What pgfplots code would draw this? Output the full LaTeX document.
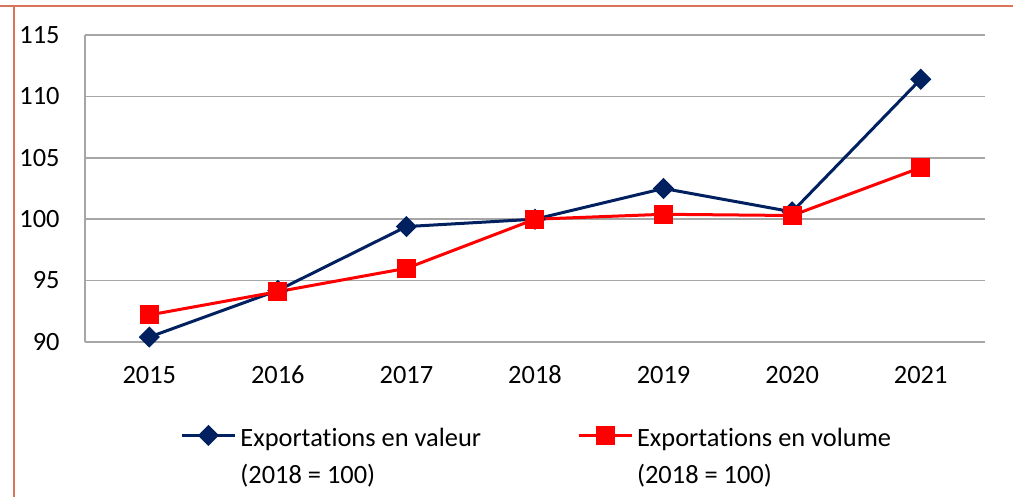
\documentclass[border=0pt]{standalone}
\usepackage{fontspec}
\setmainfont{Carlito}[Ligatures={NoCommon,NoDiscretionary,NoContextual}]
\usepackage{pgfplots}
\pgfplotsset{compat=1.18}
\definecolor{navy}{HTML}{002060}
\definecolor{bordc}{HTML}{D9735A}
\definecolor{gridc}{HTML}{A6A6A6}
\renewcommand\arraystretch{1.17}
\begin{document}
\begin{tikzpicture}[font=\fontsize{13.2}{15.8}\selectfont]
\useasboundingbox (0,0) rectangle (506.5pt,248.5pt);
\draw[bordc, line width=1pt] (0,245.5pt) -- (506.5pt,245.5pt);
\draw[bordc, line width=1pt] (7pt,245.5pt) -- (7pt,0);
\begin{axis}[at={(42.5pt,77.5pt)}, anchor=south west, scale only axis,
  width=450pt, height=153.5pt,
  xmin=-0.5, xmax=6.5, ymin=90, ymax=115,
  ytick={90,95,100,105,110,115},
  xtick={0,1,2,3,4,5,6},
  xticklabels={2015,2016,2017,2018,2019,2020,2021},
  /pgf/number format/assume math mode=true,
  major tick length=0pt,
  axis x line*=bottom, axis y line*=left,
  axis line style={gridc, line width=0.75pt, -},
  ymajorgrids, grid style={gridc, line width=0.75pt},
  yticklabel style={anchor=base east, inner sep=0pt, xshift=-12.5pt, yshift=-4.2pt},
  xticklabel style={anchor=base, inner sep=0pt, yshift=-21pt},
  legend columns=2,
  legend cell align=left,
  legend style={at={(axis description cs:0.1056,-0.243)}, anchor=north west,
    draw=none, fill=none, inner sep=0pt,
    /tikz/every even column/.append style={column sep=46pt}},
  legend image code/.code={
    \draw[mark repeat=2,mark phase=2] plot coordinates {(0pt,0pt) (13.25pt,0pt) (26.5pt,0pt)};},
]
\addplot[navy, line width=1.5pt, mark=square*, mark size=3pt, mark options={solid, rotate=45}] coordinates {
 (0,90.4) (1,94.2) (2,99.4) (3,100.0) (4,102.5) (5,100.6) (6,111.4)};
\addlegendentry{\begin{tabular}[t]{@{}l@{}}Exportations en valeur\\(2018 = 100)\end{tabular}}
\addplot[red, line width=1.5pt, mark=square*, mark size=4pt, mark options={solid}] coordinates {
 (0,92.2) (1,94.1) (2,96.0) (3,100.0) (4,100.4) (5,100.3) (6,104.2)};
\addlegendentry{\begin{tabular}[t]{@{}l@{}}Exportations en volume\\(2018 = 100)\end{tabular}}
\end{axis}
\end{tikzpicture}
\end{document}
